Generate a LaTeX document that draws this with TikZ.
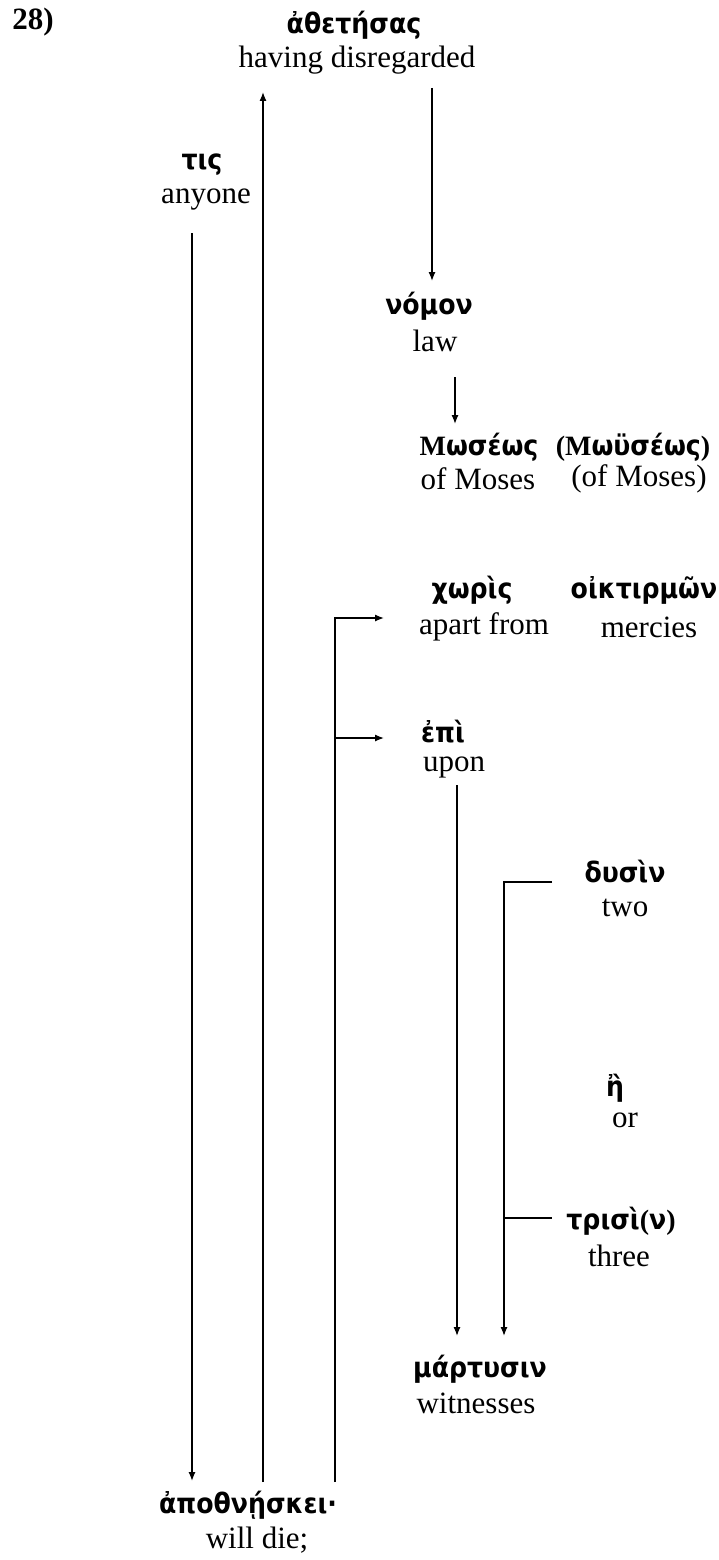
\documentclass[tikz,border=0pt]{standalone}
\usepackage{fontspec}
\setmainfont{Liberation Serif}
\newfontfamily\grk{DejaVu Sans Condensed}
\usepackage{tikz}
\usetikzlibrary{arrows.meta,positioning}

\begin{document}
\begin{tikzpicture}[x=1pt,y=-1pt,>={Latex[length=9pt,width=7pt]},line width=1.3pt,
  greek/.style={font=\grk\bfseries\fontsize{28}{32}\selectfont,inner sep=0pt},
  gloss/.style={font=\fontsize{31}{36}\selectfont,inner sep=0pt}]

  \useasboundingbox (0,0) rectangle (719,1560);

  \node[font=\bfseries\fontsize{31}{36}\selectfont,inner sep=0pt] (num) at (33,22) {28)};

  % words and glosses
  \node[greek] (ath) at (354,25) {ἀθετήσας};
  \node[gloss] (athg) at (357,60) {having disregarded};
  \node[greek] (tis) at (202,165) {τις};
  \node[gloss] (tisg) at (206,200) {anyone};
  \node[greek] (nom) at (429,306) {νόμον};
  \node[gloss] (nomg) at (435,341) {law};
  \node[greek] (mos) at (479,447) {{\rmfamily Μ}ωσέως};
  \node[greek] (moy) at (633,447) {{\rmfamily(Μ}ωϋσέως{\rmfamily)}};
  \node[gloss] (mosg) at (478,479) {of Moses};
  \node[gloss] (moyg) at (639,479) {(of Moses)};
  \node[greek] (cho) at (472,590) {χωρὶς};
  \node[greek] (oik) at (644,590) {οἰκτιρμῶν};
  \node[gloss] (chog) at (484,627) {apart from};
  \node[gloss] (oikg) at (649,627) {mercies};
  \node[greek] (epi) at (443,732) {ἐπὶ};
  \node[gloss] (epig) at (454,767) {upon};
  \node[greek] (dys) at (625,872) {δυσὶν};
  \node[gloss] (dysg) at (625,908) {two};
  \node[greek] (e) at (615,1088) {ἢ};
  \node[gloss] (eg) at (625,1120) {or};
  \node[greek] (tri) at (621,1221) {τρισὶ{\rmfamily(}ν{\rmfamily)}};
  \node[gloss] (trig) at (619,1256) {three};
  \node[greek] (mar) at (480,1369) {μάρτυσιν};
  \node[gloss] (marg) at (476,1403) {witnesses};
  \node[greek] (apo) at (248,1505) {ἀποθνῄσκει·};
  \node[gloss] (apog) at (257,1540) {will die;};

  % line ends
  \coordinate (tisA) at (192,233);   \coordinate (apoA) at (192,1481);
  \coordinate (apoB) at (263,1482);  \coordinate (athB) at (263,92);
  \coordinate (athC) at (432,88);    \coordinate (nomC) at (432,281);
  \coordinate (nomD) at (455,377);   \coordinate (mosD) at (455,424);
  \coordinate (apoE) at (335,1482);  \coordinate (elbE) at (335,618);
  \coordinate (choE) at (384,618);   \coordinate (midE) at (335,738);
  \coordinate (epiE) at (384,738);
  \coordinate (epiF) at (457,785);   \coordinate (marF) at (457,1336);
  \coordinate (dysG) at (552,882);   \coordinate (elbG) at (504,882);
  \coordinate (marG) at (504,1336);  \coordinate (midG) at (504,1218);
  \coordinate (triG) at (552,1218);

  \draw[->] (tisA) -- (apoA);
  \draw[->] (apoB) -- (athB);
  \draw[->] (athC) -- (nomC);
  \draw[->] (nomD) -- (mosD);
  \draw[->] (apoE) -- (elbE) -- (choE);
  \draw[->] (midE) -- (epiE);
  \draw[->] (epiF) -- (marF);
  \draw[->] (dysG) -- (elbG) -- (marG);
  \draw (midG) -- (triG);

\end{tikzpicture}
\end{document}
